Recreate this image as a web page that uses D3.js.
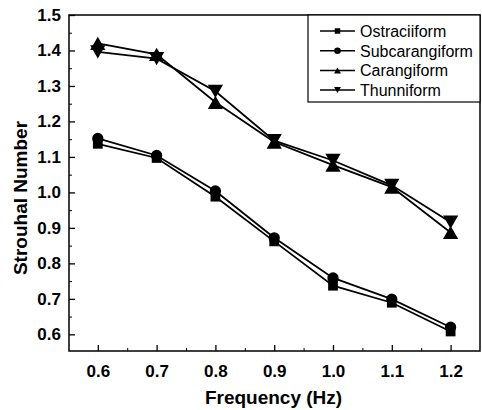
<!DOCTYPE html>
<html><head><meta charset="utf-8">
<script src="https://cdn.jsdelivr.net/npm/d3@7"></script>
<style>body{margin:0;background:#fff}svg{display:block}</style>
</head><body>
<script>
const freq = [0.6, 0.7, 0.8, 0.9, 1.0, 1.1, 1.2];
const ostraciiform   = [1.137, 1.097, 0.988, 0.862, 0.737, 0.689, 0.608];
const subcarangiform = [1.152, 1.104, 1.004, 0.872, 0.759, 0.699, 0.620];
const carangiform    = [1.420, 1.389, 1.254, 1.142, 1.077, 1.015, 0.887];
const thunniform     = [1.396, 1.377, 1.285, 1.146, 1.090, 1.020, 0.916];
const seriesNames = ["Ostraciiform", "Subcarangiform", "Carangiform", "Thunniform"];
const xTicks = [0.6, 0.7, 0.8, 0.9, 1.0, 1.1, 1.2];
const yTicks = [0.6, 0.7, 0.8, 0.9, 1.0, 1.1, 1.2, 1.3, 1.4, 1.5];

const W = 482, H = 410;
const L = 69, R = 480, T = 15, B = 351;
const svg = d3.select("body").append("svg").attr("width", W).attr("height", H);
const x = d3.scaleLinear().domain([0.551, 1.25]).range([L, R]);
const y = d3.scaleLinear().domain([0.553, 1.5]).range([B, T]);

// bbox-centred triangle symbol (Origin style)
const triUp = { draw(ctx, size) { const w = Math.sqrt(size * 1.6), h = w * 0.87;
  ctx.moveTo(0, -h / 2); ctx.lineTo(w / 2, h / 2); ctx.lineTo(-w / 2, h / 2); ctx.closePath(); } };
const triDown = { draw(ctx, size) { const w = Math.sqrt(size * 1.6), h = w * 0.87;
  ctx.moveTo(0, h / 2); ctx.lineTo(w / 2, -h / 2); ctx.lineTo(-w / 2, -h / 2); ctx.closePath(); } };

const series = [
  {name: seriesNames[0], vals: ostraciiform, sym: d3.symbolSquare, size: 95, lsize: 30},
  {name: seriesNames[1], vals: subcarangiform, sym: d3.symbolCircle, size: 100, lsize: 34},
  {name: seriesNames[2], vals: carangiform, sym: triUp, size: 145, lsize: 30},
  {name: seriesNames[3], vals: thunniform, sym: triDown, size: 145, lsize: 30}
];

const line = d3.line().x(d => x(d[0])).y(d => y(d[1]));
series.forEach(s => {
  const pts = freq.map((f, i) => [f, s.vals[i]]);
  svg.append("path").attr("d", line(pts)).attr("fill", "none")
    .attr("stroke", "#000").attr("stroke-width", 1.8);
});
series.forEach(s => {
  const pts = freq.map((f, i) => [f, s.vals[i]]);
  svg.selectAll(null).data(pts).enter().append("path")
    .attr("d", d3.symbol().type(s.sym).size(s.size))
    .attr("transform", d => `translate(${x(d[0])},${y(d[1])})`)
    .attr("fill", "#000");
});

// frame
svg.append("rect").attr("x", L).attr("y", T).attr("width", R - L).attr("height", B - T)
  .attr("fill", "none").attr("stroke", "#000").attr("stroke-width", 1.5);

const FONT = "Liberation Sans, Arial, sans-serif";
// x axis
const xAxis = d3.axisBottom(x).tickValues(xTicks).tickFormat(d3.format(".1f")).tickSizeInner(-6).tickSizeOuter(0).tickPadding(14);
const gx = svg.append("g").attr("transform", `translate(0,${B})`).call(xAxis);
gx.select(".domain").remove();
gx.selectAll("line").attr("stroke-width", 1.3);
gx.selectAll("text").attr("font-family", FONT).attr("font-weight", "bold").attr("font-size", 17).attr("fill", "#000");
const xMinor = d3.axisBottom(x).tickValues(d3.range(0.65, 1.25, 0.1)).tickSizeInner(-3).tickSizeOuter(0).tickFormat("");
const gxm = svg.append("g").attr("transform", `translate(0,${B})`).call(xMinor);
gxm.select(".domain").remove();

// y axis
const yAxis = d3.axisLeft(y).tickValues(yTicks).tickFormat(d3.format(".1f")).tickSizeInner(-6).tickSizeOuter(0).tickPadding(8);
const gy = svg.append("g").attr("transform", `translate(${L},0)`).call(yAxis);
gy.select(".domain").remove();
gy.selectAll("line").attr("stroke-width", 1.3);
gy.selectAll("text").attr("font-family", FONT).attr("font-weight", "bold").attr("font-size", 17).attr("fill", "#000");
const yMinor = d3.axisLeft(y).tickValues(d3.range(0.65, 1.5, 0.1)).tickSizeInner(-3).tickSizeOuter(0).tickFormat("");
const gym = svg.append("g").attr("transform", `translate(${L},0)`).call(yMinor);
gym.select(".domain").remove();

// titles
svg.append("text").attr("x", (L + R) / 2 - 1).attr("y", 404).attr("text-anchor", "middle")
  .attr("font-family", FONT).attr("font-weight", "bold").attr("font-size", 19)
  .text("Frequency (Hz)");
svg.append("text").attr("transform", `translate(27,${(T + B) / 2 + 15}) rotate(-90)`).attr("text-anchor", "middle")
  .attr("font-family", FONT).attr("font-weight", "bold").attr("font-size", 19)
  .text("Strouhal Number");

// legend
const lg = svg.append("g");
lg.append("rect").attr("x", 308).attr("y", T).attr("width", R - 308).attr("height", 87)
  .attr("fill", "#fff").attr("stroke", "#000").attr("stroke-width", 1.2);
series.forEach((s, i) => {
  const yy = 31 + i * 19.7;
  lg.append("line").attr("x1", 320).attr("x2", 355).attr("y1", yy).attr("y2", yy).attr("stroke", "#000").attr("stroke-width", 1.5);
  lg.append("path").attr("d", d3.symbol().type(s.sym).size(s.lsize)())
    .attr("transform", `translate(337.5,${yy})`).attr("fill", "#000");
  lg.append("text").attr("x", 360).attr("y", yy + 6).attr("font-family", FONT)
    .attr("font-size", 16).text(s.name);
});
</script>
</body></html>
